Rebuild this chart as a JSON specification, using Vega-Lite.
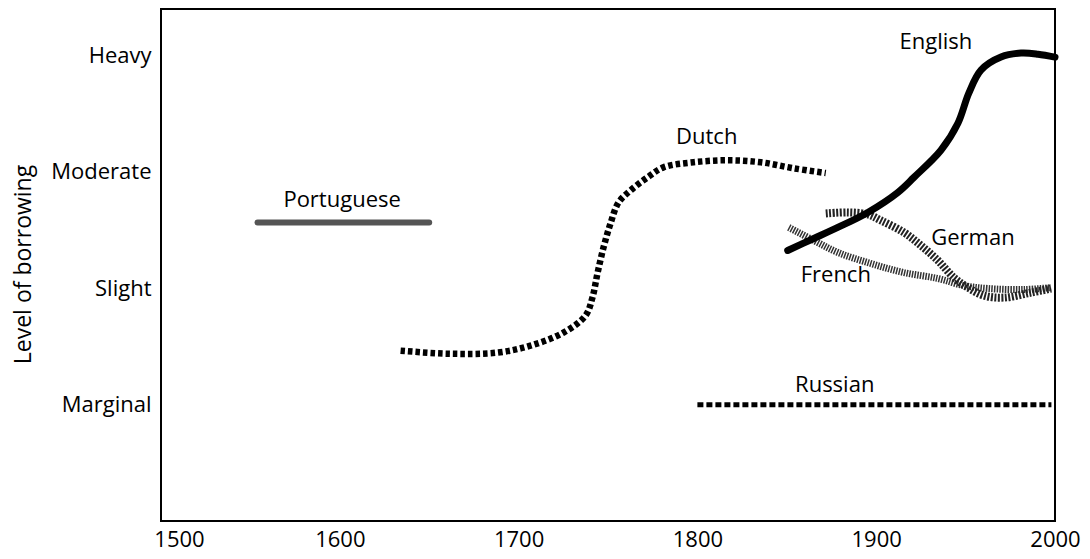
{
  "$schema": "https://vega.github.io/schema/vega-lite/v6.json",
  "width": 894,
  "height": 512,
  "autosize": "none",
  "padding": {"left": 161, "top": 9, "right": 35, "bottom": 38},
  "background": "white",
  "config": {
    "font": "Open Sans",
    "view": {"stroke": "#000", "strokeWidth": 2},
    "axis": {"labelColor": "#000", "titleColor": "#000"}
  },
  "datasets": {
    "lines": [
      {"series": "Portuguese", "year": 1554, "level": 2.566},
      {"series": "Portuguese", "year": 1650, "level": 2.566},
      {"series": "Russian", "year": 1800, "level": 1.0},
      {"series": "Russian", "year": 1998, "level": 1.0},
      {"series": "Dutch", "year": 1634, "level": 1.464},
      {"series": "Dutch", "year": 1660, "level": 1.438},
      {"series": "Dutch", "year": 1688, "level": 1.447},
      {"series": "Dutch", "year": 1706.6, "level": 1.507},
      {"series": "Dutch", "year": 1725.1, "level": 1.619},
      {"series": "Dutch", "year": 1737.4, "level": 1.765},
      {"series": "Dutch", "year": 1741.3, "level": 1.92},
      {"series": "Dutch", "year": 1744.1, "level": 2.127},
      {"series": "Dutch", "year": 1747.5, "level": 2.351},
      {"series": "Dutch", "year": 1751.4, "level": 2.557},
      {"series": "Dutch", "year": 1755.9, "level": 2.738},
      {"series": "Dutch", "year": 1762.6, "level": 2.841},
      {"series": "Dutch", "year": 1772.1, "level": 2.953},
      {"series": "Dutch", "year": 1781.0, "level": 3.039},
      {"series": "Dutch", "year": 1797.9, "level": 3.083},
      {"series": "Dutch", "year": 1816.9, "level": 3.1},
      {"series": "Dutch", "year": 1835.4, "level": 3.083},
      {"series": "Dutch", "year": 1853.9, "level": 3.031},
      {"series": "Dutch", "year": 1871.8, "level": 2.99},
      {"series": "English", "year": 1850.5, "level": 2.325},
      {"series": "English", "year": 1865.1, "level": 2.428},
      {"series": "English", "year": 1878.5, "level": 2.523},
      {"series": "English", "year": 1895.3, "level": 2.652},
      {"series": "English", "year": 1912.1, "level": 2.824},
      {"series": "English", "year": 1921.1, "level": 2.953},
      {"series": "English", "year": 1936.2, "level": 3.186},
      {"series": "English", "year": 1945.7, "level": 3.418},
      {"series": "English", "year": 1951.8, "level": 3.677},
      {"series": "English", "year": 1958.6, "level": 3.875},
      {"series": "English", "year": 1969.8, "level": 3.987},
      {"series": "English", "year": 1981.0, "level": 4.021},
      {"series": "English", "year": 1990.5, "level": 4.012},
      {"series": "English", "year": 2000, "level": 3.987},
      {"series": "German", "year": 1871.8, "level": 2.643},
      {"series": "German", "year": 1884.1, "level": 2.652},
      {"series": "German", "year": 1895.3, "level": 2.635},
      {"series": "German", "year": 1902.6, "level": 2.583},
      {"series": "German", "year": 1915.5, "level": 2.48},
      {"series": "German", "year": 1925.0, "level": 2.368},
      {"series": "German", "year": 1934.5, "level": 2.239},
      {"series": "German", "year": 1943.4, "level": 2.092},
      {"series": "German", "year": 1951.3, "level": 2.006},
      {"series": "German", "year": 1960.2, "level": 1.937},
      {"series": "German", "year": 1971.4, "level": 1.92},
      {"series": "German", "year": 1986.6, "level": 1.963},
      {"series": "German", "year": 1997.8, "level": 1.998},
      {"series": "French", "year": 1851.1, "level": 2.523},
      {"series": "French", "year": 1865.1, "level": 2.411},
      {"series": "French", "year": 1878.5, "level": 2.308},
      {"series": "French", "year": 1897.0, "level": 2.213},
      {"series": "French", "year": 1915.5, "level": 2.135},
      {"series": "French", "year": 1934.5, "level": 2.084},
      {"series": "French", "year": 1949.0, "level": 2.023},
      {"series": "French", "year": 1962.5, "level": 1.998},
      {"series": "French", "year": 1982.6, "level": 1.989},
      {"series": "French", "year": 1997.8, "level": 2.006}
    ],
    "labels": [
      {"label": "English", "year": 1933.4, "level": 4.116},
      {"label": "Dutch", "year": 1805.2, "level": 3.3},
      {"label": "Portuguese", "year": 1601.3, "level": 2.755},
      {"label": "German", "year": 1954.1, "level": 2.428},
      {"label": "French", "year": 1877.4, "level": 2.118},
      {"label": "Russian", "year": 1876.8, "level": 1.171}
    ]
  },
  "encoding": {
    "x": {
      "field": "year", "type": "quantitative",
      "scale": {"domain": [1500, 2000], "nice": false, "zero": false},
      "axis": {
        "values": [1500, 1600, 1700, 1800, 1900, 2000],
        "format": "d", "title": null, "grid": false, "ticks": false, "domain": false,
        "labelFontSize": 22, "labelPadding": 8, "labelFlush": false,
        "labelOffset": {"condition": {"test": "datum.value === 1500", "value": 18}, "value": 0}
      }
    },
    "y": {
      "field": "level", "type": "quantitative",
      "scale": {"domain": [0, 4.4], "nice": false},
      "axis": {
        "values": [1, 2, 3, 4],
        "labelExpr": "['', 'Marginal', 'Slight', 'Moderate', 'Heavy'][datum.value]",
        "title": "Level of borrowing", "titleFontSize": 23, "titleFontWeight": "normal",
        "titleX": -138, "titleY": 255, "titleBaseline": "middle", "titleAlign": "center", "titleAngle": 270,
        "grid": false, "ticks": false, "domain": false,
        "labelFontSize": 22, "labelPadding": 10
      }
    }
  },
  "layer": [
    {
      "data": {"name": "lines"},
      "transform": [{"filter": "datum.series === 'Portuguese'"}],
      "mark": {"type": "line", "color": "#555", "strokeWidth": 6, "strokeCap": "round"}
    },
    {
      "data": {"name": "lines"},
      "transform": [{"filter": "datum.series === 'Russian'"}],
      "mark": {"type": "line", "color": "#000", "strokeWidth": 5, "strokeDash": [6, 3]}
    },
    {
      "data": {"name": "lines"},
      "transform": [{"filter": "datum.series === 'Dutch'"}],
      "mark": {"type": "line", "color": "#000", "strokeWidth": 6.5, "strokeDash": [4.5, 3], "interpolate": "catmull-rom"}
    },
    {
      "data": {"name": "lines"},
      "transform": [{"filter": "datum.series === 'French'"}],
      "mark": {"type": "line", "color": "#333", "strokeWidth": 7, "strokeDash": [1.5, 1.2], "interpolate": "catmull-rom"}
    },
    {
      "data": {"name": "lines"},
      "transform": [{"filter": "datum.series === 'German'"}],
      "mark": {"type": "line", "color": "#222", "strokeWidth": 8, "strokeDash": [2, 1.5], "interpolate": "catmull-rom"}
    },
    {
      "data": {"name": "lines"},
      "transform": [{"filter": "datum.series === 'English'"}],
      "mark": {"type": "line", "color": "#000", "strokeWidth": 7, "strokeCap": "round", "interpolate": "catmull-rom"}
    },
    {
      "data": {"name": "labels"},
      "mark": {"type": "text", "fontSize": 22, "color": "#000", "align": "center", "baseline": "middle"},
      "encoding": {"text": {"field": "label"}}
    }
  ]
}
